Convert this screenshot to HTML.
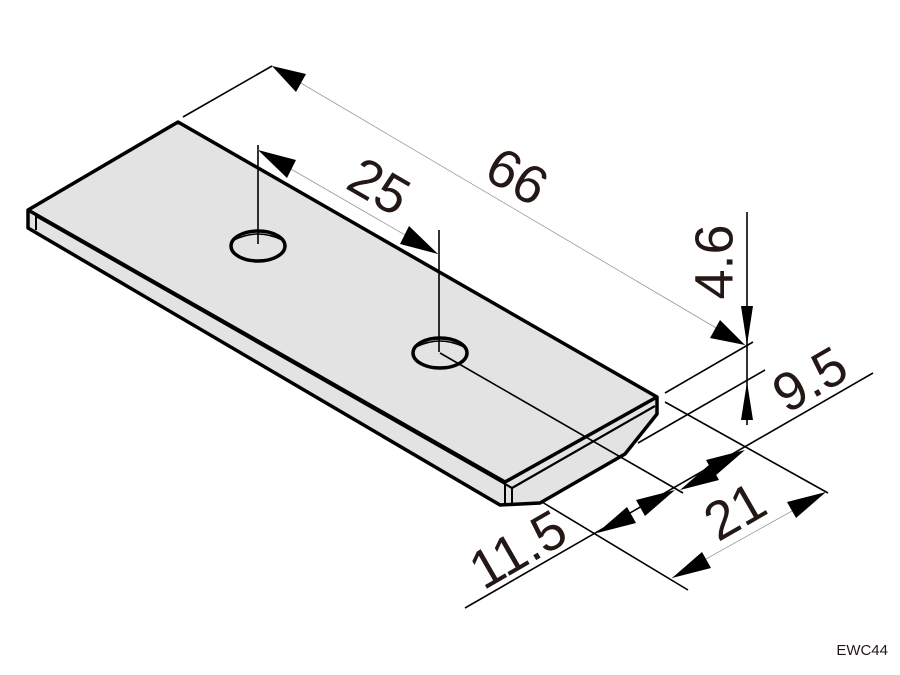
<!DOCTYPE html>
<html><head><meta charset="utf-8"><style>
html,body{margin:0;padding:0;background:#fff;}
svg{display:block;}
text{font-family:"Liberation Sans",sans-serif;fill:#231815;}
</style></head><body>
<svg width="900" height="675" viewBox="0 0 900 675" xmlns="http://www.w3.org/2000/svg">
<polygon points="178,122 657,397 657,414 625,454 540,503 500,505 28,228 28,210" fill="#e3e3e3" stroke="none"/>
<g fill="none" stroke="#000" stroke-width="3.5" stroke-linejoin="round">
<polygon points="178,122 657,397 657,414 625,454 540,503 500,505 28,228 28,210"/>
<polyline points="28,210 505,482 657,397"/>
<polyline points="36,216 512,488 655,406" stroke-width="2.2"/>
<line x1="36" y1="216" x2="36" y2="230" stroke-width="2"/>
<line x1="505" y1="482" x2="505" y2="503" stroke-width="2"/>
<line x1="512" y1="488" x2="512" y2="504" stroke-width="2"/>
<ellipse cx="258" cy="246" rx="27" ry="15"/>
<ellipse cx="440" cy="353" rx="27" ry="15"/>
</g>
<path d="M234,240 Q258,228 282,240" fill="none" stroke="#000" stroke-width="1.5"/>
<path d="M416,347 Q440,335 464,347" fill="none" stroke="#000" stroke-width="1.5"/>
<g stroke="#000" stroke-width="1.6" fill="none">
<line x1="183" y1="117" x2="272" y2="66"/>
<line x1="258" y1="145" x2="258" y2="244"/>
<line x1="439" y1="230" x2="439" y2="352"/>
<line x1="665" y1="393" x2="753" y2="342"/>
<line x1="638" y1="443" x2="765" y2="370"/>
<line x1="747" y1="212" x2="747" y2="425"/>
<line x1="440" y1="353" x2="683" y2="493"/>
<line x1="665" y1="402" x2="828" y2="493"/>
<line x1="542" y1="502" x2="688" y2="590"/>
<line x1="465" y1="608" x2="873" y2="373"/>
</g>
<g stroke="#999" stroke-width="0.8">
<line x1="272" y1="66" x2="745" y2="345"/>
<line x1="258" y1="150" x2="438" y2="254"/>
<line x1="672" y1="578" x2="826" y2="492"/>
</g>
<g fill="#000">
<polygon points="272,66 306,74 296,92"/>
<polygon points="745,345 710,338 720,320"/>
<polygon points="258,150 296,160 287,178"/>
<polygon points="438,254 400,244 409,226"/>
<polygon points="747,345 741,306 753,306"/>
<polygon points="747,382 741,420 753,420"/>
<polygon points="597,533 627,507 636,523"/>
<polygon points="675,490 645,516 636,500"/>
<polygon points="680,490 710,464 719,480"/>
<polygon points="745,450 715,476 706,460"/>
<polygon points="672,578 702,552 711,568"/>
<polygon points="826,492 796,518 787,502"/>
</g>
<g font-size="54">
<text x="0" y="0" transform="translate(515,180) rotate(30)" text-anchor="middle" dominant-baseline="middle">66</text>
<text x="0" y="0" transform="translate(377,190) rotate(30)" text-anchor="middle" dominant-baseline="middle">25</text>
<text x="0" y="0" transform="translate(718,262) rotate(-90)" text-anchor="middle" dominant-baseline="middle">4.6</text>
<text x="0" y="0" transform="translate(812,383) rotate(-30)" text-anchor="middle" dominant-baseline="middle">9.5</text>
<text x="0" y="0" transform="translate(737,515) rotate(-30)" text-anchor="middle" dominant-baseline="middle">21</text>
<text x="0" y="0" transform="translate(520,553) rotate(-30)" text-anchor="middle" dominant-baseline="middle">11.5</text>
</g>
<text x="888" y="655" font-size="15" text-anchor="end">EWC44</text>
</svg>
</body></html>
